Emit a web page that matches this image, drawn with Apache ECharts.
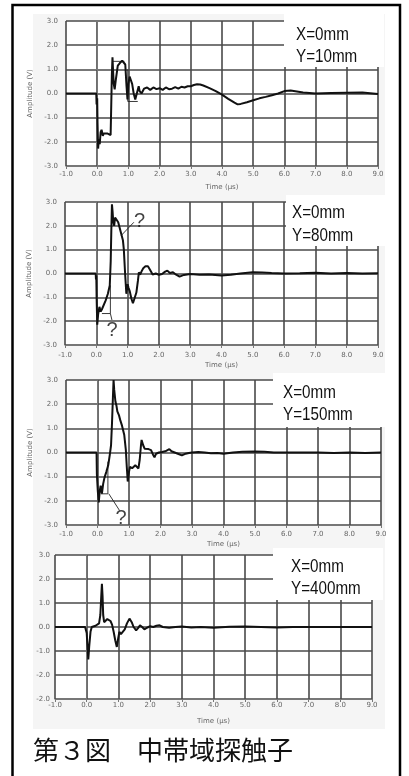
<!DOCTYPE html>
<html><head><meta charset="utf-8">
<script src="https://cdn.jsdelivr.net/npm/echarts@6/dist/echarts.min.js"></script>
<style>html,body{margin:0;padding:0;background:#fff;}#c{width:409px;height:776px;}</style>
</head><body><div id="c"></div>
<script>
// ---- data (time in µs, amplitude in V) ----
var xTicks = [-1, 0, 1, 2, 3, 4, 5, 6, 7, 8, 9];
var yTicks = [-3, -2, -1, 0, 1, 2, 3];
var yLabelsPanel4 = ['-2.0', '-2.0', '-1.0', '0.0', '1.0', '2.0', '3.0'];
var panelTitlesX = ['X=0mm', 'X=0mm', 'X=0mm', 'X=0mm'];
var panelTitlesY = ['Y=10mm', 'Y=80mm', 'Y=150mm', 'Y=400mm'];
var caption = '第３図　中帯域探触子';

var wave10 = [[-1,0],[-0.03,0],[-0.02,-0.45],[0.0,-0.2],[0.01,-1.2],[0.03,-2.28],[0.05,-1.9],[0.08,-2.1],[0.11,-1.6],[0.14,-1.5],[0.18,-1.75],[0.21,-1.65],[0.26,-1.7],[0.32,-1.65],[0.38,-1.7],[0.43,-1.72],[0.45,-0.5],[0.47,0.8],[0.49,1.5],[0.51,0.9],[0.53,0.4],[0.56,0.17],[0.6,0.6],[0.66,1.15],[0.72,1.25],[0.8,1.36],[0.86,1.4],[0.9,1.2],[0.94,0.3],[0.97,-0.25],[1.0,0.4],[1.04,0.7],[1.08,0.55],[1.12,0.4],[1.17,0.0],[1.22,-0.25],[1.28,0.05],[1.33,0.3],[1.36,0.1],[1.42,0.0],[1.5,0.2],[1.6,0.25],[1.7,0.15],[1.8,0.25],[1.9,0.18],[2.0,0.22],[2.1,0.15],[2.2,0.25],[2.3,0.18],[2.4,0.2],[2.5,0.26],[2.6,0.2],[2.7,0.28],[2.8,0.25],[2.9,0.3],[3.0,0.3],[3.1,0.35],[3.2,0.38],[3.3,0.37],[3.4,0.33],[3.6,0.22],[3.8,0.1],[4.0,-0.05],[4.2,-0.22],[4.4,-0.38],[4.5,-0.45],[4.6,-0.43],[4.8,-0.36],[5.0,-0.28],[5.2,-0.2],[5.4,-0.14],[5.6,-0.07],[5.8,0.0],[6.0,0.1],[6.2,0.12],[6.4,0.08],[6.6,0.04],[6.8,0.02],[7.0,0.0],[7.5,0.02],[8.0,0.03],[8.5,0.04],[9.0,-0.02]];
var step10a = [[0.5,1.33],[0.87,1.33]];
var step10b = [[0.98,1.0],[0.98,-0.33],[1.3,-0.33]];

var wave80 = [[-1,0],[-0.02,0],[-0.01,-0.25],[0.0,-0.1],[0.01,-1.0],[0.03,-2.15],[0.06,-1.7],[0.1,-1.4],[0.14,-1.6],[0.18,-1.5],[0.22,-1.45],[0.3,-1.13],[0.37,-0.85],[0.43,-0.5],[0.46,0.5],[0.48,1.8],[0.5,2.9],[0.52,2.6],[0.54,2.2],[0.57,2.0],[0.6,2.35],[0.65,2.3],[0.7,2.15],[0.75,1.9],[0.8,1.65],[0.85,1.4],[0.88,1.0],[0.92,0.0],[0.96,-0.85],[1.0,-0.45],[1.03,-0.6],[1.07,-0.75],[1.12,-1.05],[1.17,-1.25],[1.22,-1.05],[1.28,-0.8],[1.33,-0.3],[1.36,0.05],[1.4,-0.05],[1.45,0.1],[1.5,0.22],[1.57,0.3],[1.65,0.3],[1.72,0.15],[1.8,-0.04],[1.9,0.0],[2.0,-0.05],[2.1,-0.02],[2.2,0.08],[2.27,0.12],[2.35,0.02],[2.45,0.05],[2.55,-0.05],[2.66,-0.13],[2.8,-0.06],[3.0,-0.02],[3.3,-0.05],[3.6,-0.04],[4.0,-0.08],[4.3,-0.05],[4.6,0.0],[5.0,0.05],[5.3,0.04],[5.6,0.02],[6.0,0.0],[6.5,0.01],[7.0,0.03],[7.5,0.0],[8.0,0.02],[8.5,0.0],[9.0,0.01]];
var note80a = [[1.2,2.15],[0.8,1.6]];
var note80b = [[0.18,-1.68],[0.45,-1.68],[0.45,-0.5]];
var note80c = [[0.45,-1.68],[0.5,-1.95]];
var mark80 = [[1.38,2.2],[0.5,-2.4]];

var wave150 = [[-1,0],[-0.03,0],[-0.02,-0.9],[0.01,-1.6],[0.04,-2.07],[0.07,-1.6],[0.1,-1.37],[0.14,-1.7],[0.18,-1.3],[0.22,-1.05],[0.28,-0.8],[0.34,-0.53],[0.39,-0.1],[0.43,0.3],[0.46,1.2],[0.49,2.3],[0.51,3.0],[0.53,2.6],[0.57,2.1],[0.6,1.95],[0.63,1.7],[0.68,1.55],[0.72,1.35],[0.78,1.1],[0.85,0.72],[0.9,0.1],[0.93,-0.6],[0.96,-1.2],[1.0,-0.8],[1.03,-0.6],[1.1,-0.65],[1.15,-0.6],[1.2,-0.53],[1.25,-0.6],[1.3,-0.66],[1.34,-0.3],[1.38,0.3],[1.4,0.52],[1.45,0.3],[1.5,0.15],[1.56,0.2],[1.62,0.14],[1.7,0.1],[1.76,-0.08],[1.81,-0.2],[1.86,-0.05],[1.95,0.0],[2.05,0.02],[2.15,0.05],[2.28,0.14],[2.35,0.05],[2.45,0.0],[2.55,-0.05],[2.68,-0.12],[2.8,-0.05],[2.9,-0.02],[3.0,0.0],[3.2,0.02],[3.4,0.0],[3.6,-0.03],[3.8,-0.02],[4.0,-0.05],[4.3,0.0],[4.6,0.03],[5.0,0.04],[5.3,0.03],[5.6,0.0],[6.0,0.0],[6.5,0.0],[7.0,0.0],[7.5,-0.02],[8.0,0.0],[8.5,-0.02],[9.0,0.0]];
var note150a = [[0.11,-1.71],[0.33,-1.71],[0.33,-0.38]];
var note150b = [[0.36,-1.71],[0.7,-2.4]];
var mark150 = [[0.75,-2.72]];

var wave400 = [[-1,0],[-0.05,0],[-0.02,-0.05],[0.0,-0.25],[0.02,-0.7],[0.05,-1.35],[0.08,-0.8],[0.12,-0.2],[0.16,0.0],[0.22,0.02],[0.28,0.05],[0.34,0.1],[0.39,0.15],[0.43,0.5],[0.46,1.3],[0.48,1.8],[0.5,1.3],[0.52,0.5],[0.55,0.2],[0.6,0.25],[0.65,0.33],[0.7,0.35],[0.75,0.25],[0.8,0.1],[0.85,-0.2],[0.9,-0.55],[0.95,-0.83],[0.99,-0.5],[1.03,-0.2],[1.08,-0.3],[1.14,-0.35],[1.2,-0.1],[1.27,0.15],[1.35,0.35],[1.42,0.2],[1.48,0.0],[1.56,-0.14],[1.62,-0.05],[1.68,0.07],[1.75,0.0],[1.82,-0.1],[1.9,-0.03],[2.0,0.03],[2.1,0.0],[2.2,0.05],[2.3,0.07],[2.4,0.0],[2.6,-0.03],[2.8,0.0],[3.0,0.02],[3.3,-0.02],[3.6,0.0],[4.0,-0.03],[4.5,0.01],[5.0,0.02],[5.5,0.0],[6.0,-0.02],[6.5,0.0],[7.0,0.0],[8.0,0.0],[9.0,0.0]];

// ---- layout ----
var grids = [
  {left:66, top:21, width:312, height:145, lblX:5, nameGap:18, yMargin:8, yName:true, box:[284,14,100,53], tx:[296,35,57]},
  {left:65, top:202, width:313, height:143, lblX:7, nameGap:17, yMargin:8, yName:true, box:[286,195,100,51], tx:[292,213,236]},
  {left:66, top:380, width:315, height:145, lblX:6, nameGap:16, yMargin:8, yName:true, box:[273,373,115,54], tx:[283,393,415]},
  {left:55, top:555, width:317, height:144, lblX:3, nameGap:19, yMargin:5, yName:false, box:[273,548,110,52], tx:[291,567,589]}
];
var FONT = 'DejaVu Sans';
var TFONT = '"Liberation Sans", Arial, sans-serif';
var NARROW = 0.8;
var GRIDLINE = {color:'#4a4a4a', width:1.6};
var gridOpts = [], xAxes = [], yAxes = [], series = [], graphics = [];

var bgRects = [[33,14,352,182],[33,195,352,177],[33,372,352,177],[33,548,352,181]];
bgRects.forEach(function(r){
  graphics.push({type:'rect', z:-10, shape:{x:r[0],y:r[1],width:r[2],height:r[3]}, style:{fill:'#f5f5f5'}});
});

grids.forEach(function(g, i){
  gridOpts.push({left:g.left, top:g.top, width:g.width, height:g.height, show:true, backgroundColor:'#fff', borderWidth:0});
  xAxes.push({type:'value', gridIndex:i, min:xTicks[0], max:xTicks[xTicks.length-1], interval:1,
    axisLine:{show:true, onZero:false, lineStyle:{color:'#777', width:1}},
    axisTick:{show:true, length:3, lineStyle:{color:'#777'}},
    axisLabel:{fontSize:7, color:'#666', margin:g.lblX, fontFamily:FONT, formatter:function(v){return v.toFixed(1);}},
    splitLine:{show:true, lineStyle:GRIDLINE},
    name:'Time (µs)', nameLocation:'middle', nameGap:g.nameGap, nameTextStyle:{fontSize:7, color:'#666', fontFamily:FONT}
  });
  yAxes.push({type:'value', gridIndex:i, min:yTicks[0], max:yTicks[yTicks.length-1], interval:1,
    axisLine:{show:true, lineStyle:{color:'#777', width:1}},
    axisTick:{show:true, length:3, lineStyle:{color:'#777'}},
    axisLabel:{fontSize:7, color:'#666', margin:g.yMargin, fontFamily:FONT,
      formatter: i===3 ? function(v){return yLabelsPanel4[yTicks.indexOf(v)];} : function(v){return v.toFixed(1);}},
    splitLine:{show:true, lineStyle:GRIDLINE},
    name: g.yName ? 'Amplitude (V)' : '', nameLocation:'middle', nameGap:24, nameRotate:90,
    nameTextStyle:{fontSize:7, color:'#666', fontFamily:FONT}
  });
  graphics.push({type:'rect', z:10, shape:{x:g.box[0], y:g.box[1], width:g.box[2], height:g.box[3]}, style:{fill:'#fff'}});
  graphics.push({type:'text', z:11, x:g.tx[0], y:g.tx[1], scaleX:NARROW, style:{text:panelTitlesX[i], font:'19px '+TFONT, fill:'#111', verticalAlign:'middle'}});
  graphics.push({type:'text', z:11, x:g.tx[0], y:g.tx[2], scaleX:NARROW, style:{text:panelTitlesY[i], font:'19px '+TFONT, fill:'#111', verticalAlign:'middle'}});
});

function wave(data, i){
  return {type:'line', xAxisIndex:i, yAxisIndex:i, data:data, showSymbol:false, symbol:'none', smooth:false,
    lineStyle:{color:'#111', width:2}, z:5, silent:true, animation:false};
}
function thin(data, i){
  return {type:'line', xAxisIndex:i, yAxisIndex:i, data:data, showSymbol:false, symbol:'none',
    lineStyle:{color:'#222', width:0.9}, z:4, silent:true, animation:false};
}
function qmark(data, i){
  return {type:'scatter', xAxisIndex:i, yAxisIndex:i, data:data, symbolSize:0, z:6, silent:true, animation:false,
    label:{show:true, position:'inside', formatter:'?', fontSize:20, color:'#111', fontFamily:TFONT}};
}
series.push(wave(wave10,0), thin(step10a,0), thin(step10b,0));
series.push(wave(wave80,1), thin(note80a,1), thin(note80b,1), thin(note80c,1), qmark(mark80,1));
series.push(wave(wave150,2), thin(note150a,2), thin(note150b,2), qmark(mark150,2));
series.push(wave(wave400,3));

graphics.push({type:'rect', z:20, shape:{x:12.5, y:5, width:387.5, height:800}, style:{fill:'none', stroke:'#000', lineWidth:2.5}});
graphics.push({type:'text', z:20, x:33, y:750, style:{text:caption, font:'26px "Noto Sans CJK JP"', fill:'#111', verticalAlign:'middle'}});

var chart = echarts.init(document.getElementById('c'), null, {renderer:'canvas'});
chart.setOption({
  animation:false,
  backgroundColor:'#fff',
  grid:gridOpts, xAxis:xAxes, yAxis:yAxes, series:series, graphic:graphics
});
</script></body></html>
